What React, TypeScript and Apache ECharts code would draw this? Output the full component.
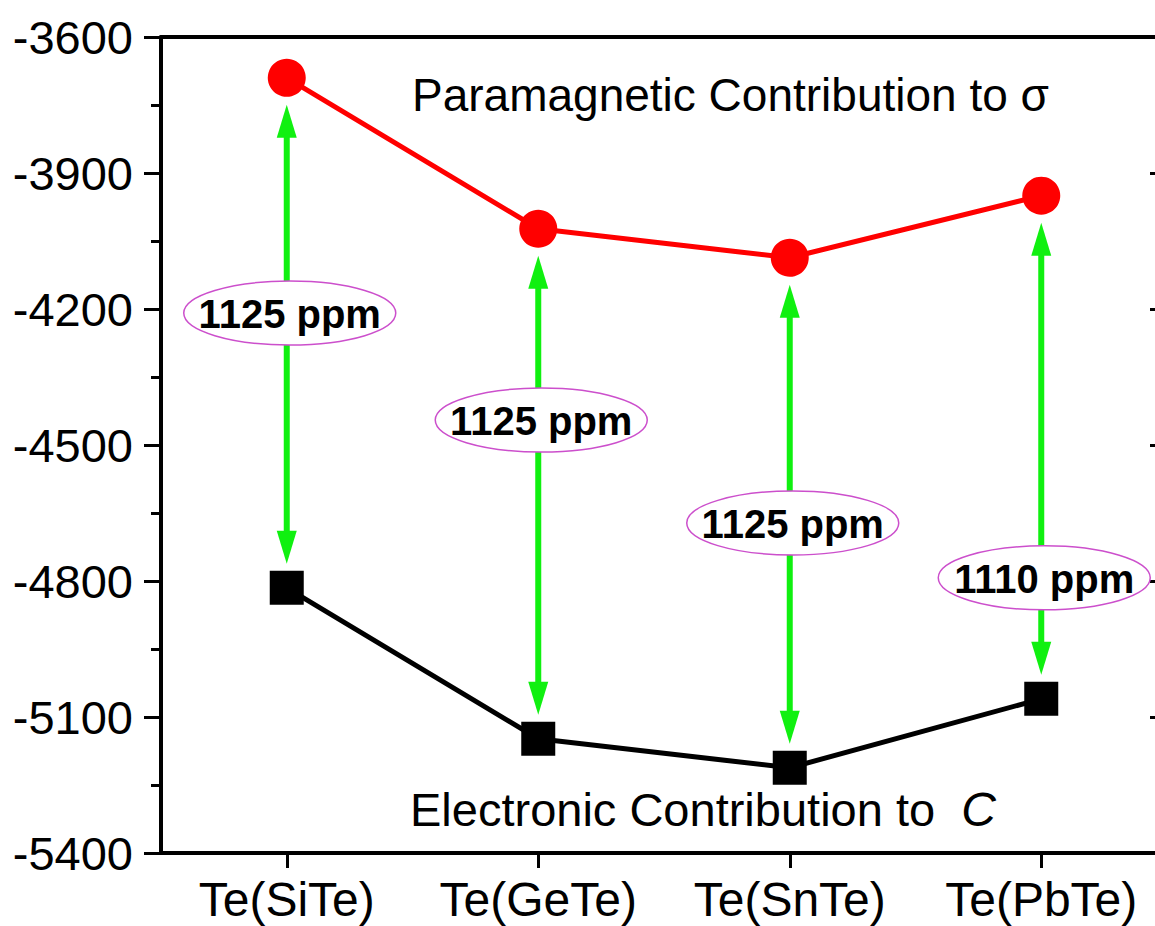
import React, { useEffect, useRef } from "react";
import * as echarts from "echarts";

// ---- data ----
const categories = ["Te(SiTe)", "Te(GeTe)", "Te(SnTe)", "Te(PbTe)"];
const paramagnetic = [-3690, -4023, -4087, -3950];
const electronic = [-4815, -5148, -5212, -5060];
const gapLabels = ["1125 ppm", "1125 ppm", "1125 ppm", "1110 ppm"];
// y value (axis units) where each gap label ellipse is anchored
const gapLabelAnchor = [-4209, -4445, -4672, -4793];
const yTicks = { min: -5400, max: -3600, step: 300 };

const FONT = '"Liberation Sans", Arial, Helvetica, sans-serif';
const GREEN = "#10f010";

export default function App() {
  const ref = useRef<HTMLDivElement>(null);

  useEffect(() => {
    if (!ref.current) return;
    const chart = echarts.init(ref.current, null, { renderer: "svg" });

    const arrowData = categories.map((_, i) => [i, paramagnetic[i], electronic[i]]);
    const labelData = categories.map((_, i) => [i, gapLabelAnchor[i]]);

    const option: any = {
      animation: false,
      backgroundColor: "#ffffff",
      grid: { left: 161, top: 37, width: 1006, height: 816, containLabel: false },
      xAxis: [
        {
          type: "category",
          data: categories,
          position: "bottom",
          boundaryGap: true,
          axisLine: { show: true, onZero: false, lineStyle: { color: "#000", width: 4 } },
          axisTick: {
            show: true,
            interval: 0,
            alignWithLabel: true,
            length: 15,
            lineStyle: { color: "#000", width: 3 },
          },
          axisLabel: { color: "#000", fontSize: 48, fontFamily: FONT, margin: 22, interval: 0, hideOverlap: false },
          splitLine: { show: false },
        },
        {
          type: "category",
          data: categories,
          position: "top",
          boundaryGap: true,
          axisLine: { show: true, onZero: false, lineStyle: { color: "#000", width: 4 } },
          axisTick: { show: false },
          axisLabel: { show: false },
          splitLine: { show: false },
        },
      ],
      yAxis: [
        {
          type: "value",
          min: yTicks.min,
          max: yTicks.max,
          interval: yTicks.step,
          position: "left",
          axisLine: { show: true, onZero: false, lineStyle: { color: "#000", width: 4 } },
          axisTick: { show: true, length: 17, lineStyle: { color: "#000", width: 3 } },
          minorTick: { show: true, splitNumber: 2, length: 10, lineStyle: { color: "#000", width: 3 } },
          axisLabel: {
            color: "#000",
            fontSize: 47,
            fontFamily: FONT,
            margin: 28,
            formatter: (v: number) => String(v),
          },
          splitLine: { show: false },
        },
        {
          type: "value",
          min: yTicks.min,
          max: yTicks.max,
          interval: yTicks.step,
          position: "right",
          axisLine: { show: true, onZero: false, lineStyle: { color: "#000", width: 4 } },
          axisTick: { show: true, inside: true, length: 17, lineStyle: { color: "#000", width: 3 } },
          minorTick: { show: true, splitNumber: 2, length: 10, lineStyle: { color: "#000", width: 3 } },
          axisLabel: { show: false },
          splitLine: { show: false },
        },
      ],
      series: [
        {
          type: "custom",
          name: "arrows",
          xAxisIndex: 0,
          yAxisIndex: 0,
          z: 1,
          data: arrowData,
          encode: { x: 0, y: [1, 2] },
          renderItem: (params: any, api: any) => {
            const i = api.value(0);
            const top = api.coord([i, api.value(1)]);
            const bot = api.coord([i, api.value(2)]);
            const x = top[0];
            const yTop = top[1] + 27;
            const yBot = bot[1] - 24;
            const headL = 33;
            const headW = 10;
            return {
              type: "group",
              children: [
                {
                  type: "line",
                  shape: { x1: x, y1: yTop + headL - 2, x2: x, y2: yBot - headL + 2 },
                  style: { stroke: GREEN, lineWidth: 6 },
                },
                {
                  type: "polygon",
                  shape: { points: [[x, yTop], [x - headW, yTop + headL], [x + headW, yTop + headL]] },
                  style: { fill: GREEN },
                },
                {
                  type: "polygon",
                  shape: { points: [[x, yBot], [x - headW, yBot - headL], [x + headW, yBot - headL]] },
                  style: { fill: GREEN },
                },
              ],
            };
          },
        },
        {
          type: "line",
          name: "Paramagnetic",
          data: paramagnetic,
          z: 2,
          symbol: "circle",
          symbolSize: 38,
          itemStyle: { color: "#ff0000" },
          lineStyle: { color: "#ff0000", width: 5 },
        },
        {
          type: "line",
          name: "Electronic",
          data: electronic,
          z: 2,
          symbol: "rect",
          symbolSize: 34,
          itemStyle: { color: "#000000" },
          lineStyle: { color: "#000000", width: 5 },
        },
        {
          type: "custom",
          name: "gapLabels",
          xAxisIndex: 0,
          yAxisIndex: 0,
          z: 3,
          data: labelData,
          encode: { x: 0, y: 1 },
          renderItem: (params: any, api: any) => {
            const i = api.value(0);
            const c = api.coord([i, api.value(1)]);
            const text = gapLabels[i];
            return {
              type: "group",
              children: [
                {
                  type: "ellipse",
                  shape: { cx: c[0] + 3, cy: c[1], rx: 106, ry: 32 },
                  style: { fill: "#ffffff", stroke: "#cc4fcc", lineWidth: 1.5 },
                },
                {
                  type: "text",
                  x: c[0] + 3,
                  y: c[1] + 1,
                  style: {
                    text,
                    fill: "#000",
                    fontSize: 40,
                    fontWeight: "bold",
                    fontFamily: FONT,
                    align: "center",
                    verticalAlign: "middle",
                  },
                },
              ],
            };
          },
        },
      ],
      graphic: [
        {
          type: "text",
          left: 412,
          top: 72,
          style: {
            text: "Paramagnetic Contribution to σ",
            fill: "#000",
            fontSize: 46,
            fontFamily: FONT,
          },
        },
        {
          type: "text",
          left: 410,
          top: 785,
          style: {
            text: "{n|Electronic Contribution to  }{i|C}",
            rich: {
              n: { fontSize: 47, fontFamily: FONT, fill: "#000" },
              i: { fontSize: 48, fontFamily: FONT, fontStyle: "italic", fill: "#000" },
            },
          },
        },
      ],
    };

    chart.setOption(option);
    return () => chart.dispose();
  }, []);

  return (
    <div style={{ position: "fixed", left: 0, top: 0, width: 1155, height: 926, overflow: "hidden", background: "#fff" }}>
      <div ref={ref} style={{ width: 1180, height: 926 }} />
    </div>
  );
}
